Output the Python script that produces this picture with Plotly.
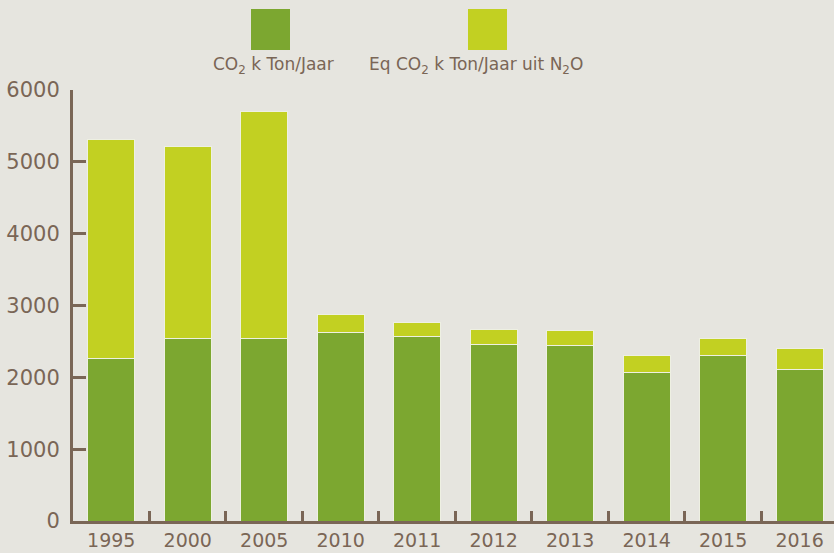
import plotly.graph_objects as go

# data (k ton / year)
years = ['1995', '2000', '2005', '2010', '2011', '2012', '2013', '2014', '2015', '2016']
co2 = [2265, 2538, 2540, 2631, 2571, 2464, 2450, 2065, 2307, 2116]
n2o_eq = [3049, 2678, 3154, 237, 199, 205, 209, 242, 236, 283]
y_ticks = [0, 1000, 2000, 3000, 4000, 5000, 6000]

BG = '#e6e5df'
DARK_GREEN = '#7ca730'
LIGHT_GREEN = '#c2d022'
BROWN = '#7a6656'
FONT = 'DejaVu Sans'

W, H = 834, 553
L, R, T, B = 73, 0, 90, 32


def px_x(x):
    return (x - L) / (W - L - R)


def px_y(y):
    return (H - B - y) / (H - T - B)


fig = go.Figure()
fig.add_trace(go.Bar(
    x=years, y=co2, name='CO2 k Ton/Jaar',
    marker=dict(color=DARK_GREEN, line=dict(color='#eef0e2', width=1)),
))
fig.add_trace(go.Bar(
    x=years, y=n2o_eq, name='Eq CO2 k Ton/Jaar uit N2O',
    marker=dict(color=LIGHT_GREEN, line=dict(color='#eef0e2', width=1)),
))

# legend drawn by hand: squares with captions underneath
legend_items = [
    (251, 290, DARK_GREEN, 'CO<sub>2</sub> k Ton/Jaar', 273),
    (468, 507, LIGHT_GREEN, 'Eq CO<sub>2</sub> k Ton/Jaar uit N<sub>2</sub>O', 476),
]
for x0, x1, col, label, cx in legend_items:
    fig.add_shape(type='rect', xref='paper', yref='paper',
                  x0=px_x(x0), x1=px_x(x1), y0=px_y(50), y1=px_y(9),
                  fillcolor=col, line=dict(width=0))
    fig.add_annotation(x=px_x(cx), y=px_y(66), xref='paper', yref='paper',
                       xanchor='center', yanchor='middle',
                       text=label, showarrow=False,
                       font=dict(family=FONT, size=17, color=BROWN))

fig.update_layout(
    barmode='stack',
    bargap=0.385,
    width=W, height=H,
    margin=dict(l=L, r=R, t=T, b=B),
    paper_bgcolor=BG, plot_bgcolor=BG,
    showlegend=False,
    font=dict(family=FONT, color=BROWN),
)
fig.update_xaxes(
    range=[-0.5, 9.45],
    showline=True, linewidth=3, linecolor=BROWN,
    ticks='inside', tickson='boundaries', ticklen=10, tickwidth=3, tickcolor=BROWN,
    showgrid=False, tickfont=dict(size=19, color=BROWN),
)
fig.update_yaxes(
    range=[0, 6000], tickvals=y_ticks,
    showline=True, linewidth=3, linecolor=BROWN,
    ticks='inside', ticklen=13, tickwidth=3, tickcolor=BROWN,
    showgrid=False, zeroline=False, ticklabelstandoff=6,
    tickfont=dict(size=21, color=BROWN),
)

# page has a default body margin; drop it so the figure sits at the window corner
fig.write_html('out.html', config={'displayModeBar': False},
               post_script="document.body.style.margin='0';"
               "document.body.style.overflow='hidden';")
